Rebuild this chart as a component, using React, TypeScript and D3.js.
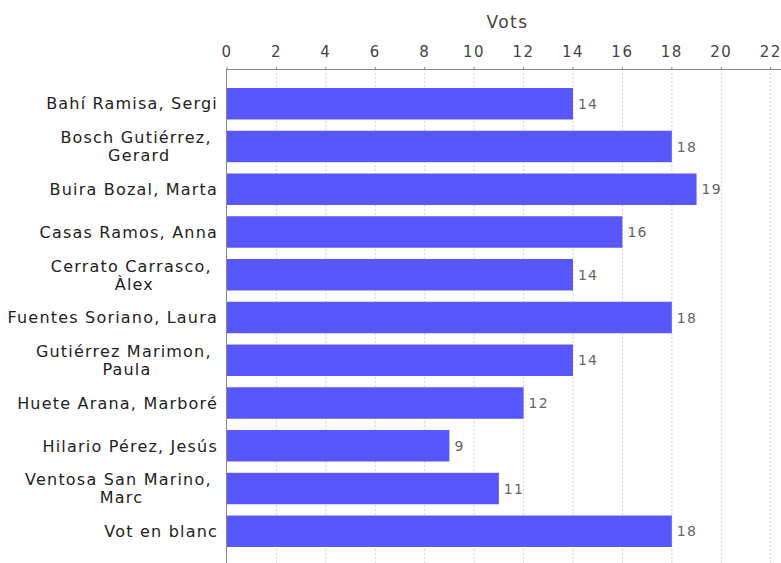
import React, { useEffect, useRef } from "react";
import * as d3 from "d3";

const categories: string[][] = [
  ["Bahí Ramisa, Sergi"],
  ["Bosch Gutiérrez,", "Gerard"],
  ["Buira Bozal, Marta"],
  ["Casas Ramos, Anna"],
  ["Cerrato Carrasco,", "Àlex"],
  ["Fuentes Soriano, Laura"],
  ["Gutiérrez Marimon,", "Paula"],
  ["Huete Arana, Marboré"],
  ["Hilario Pérez, Jesús"],
  ["Ventosa San Marino,", "Marc"],
  ["Vot en blanc"],
];
const votes: number[] = [14, 18, 19, 16, 14, 18, 14, 12, 9, 11, 18];
const tickValues: number[] = [0, 2, 4, 6, 8, 10, 12, 14, 16, 18, 20, 22];
const axisTitle = "Vots";

const W = 781;
const H = 563;
const FONT = "'DejaVu Sans', sans-serif";

export default function App() {
  const ref = useRef<SVGSVGElement | null>(null);

  useEffect(() => {
    const svg = d3.select(ref.current);
    svg.selectAll("*").remove();

    const x = d3.scaleLinear().domain([0, 22.7]).range([227, 788]);
    const keys = categories.map((c) => c.join(" "));
    const y = d3
      .scaleBand<string>()
      .domain(keys)
      .range([82.35, 552.65])
      .paddingInner(0.264)
      .paddingOuter(0.132);

    const plotTop = 69;

    svg.append("rect").attr("x", 0).attr("y", 0).attr("width", W).attr("height", H).attr("fill", "#fff");

    // gridlines
    svg
      .append("g")
      .selectAll("line")
      .data(tickValues.filter((t) => t > 0))
      .join("line")
      .attr("x1", (d) => x(d))
      .attr("x2", (d) => x(d))
      .attr("y1", plotTop)
      .attr("y2", H)
      .attr("stroke", "#d4d4d4")
      .attr("stroke-width", 1)
      .attr("stroke-dasharray", "2,2");

    // bars
    svg
      .append("g")
      .selectAll("rect")
      .data(votes)
      .join("rect")
      .attr("x", x(0))
      .attr("y", (_, i) => y(keys[i]) as number)
      .attr("width", (d) => x(d) - x(0))
      .attr("height", y.bandwidth())
      .attr("fill", "#5757fb");

    // value labels
    svg
      .append("g")
      .selectAll("text")
      .data(votes)
      .join("text")
      .attr("x", (d) => x(d) + 5)
      .attr("y", (_, i) => (y(keys[i]) as number) + y.bandwidth() / 2)
      .attr("dy", "0.36em")
      .attr("font-family", FONT)
      .attr("font-size", 14)
      .attr("letter-spacing", 1.2)
      .attr("fill", "#666")
      .text((d) => String(d));

    // top axis
    const axisG = svg.append("g");
    axisG
      .append("line")
      .attr("x1", x(0))
      .attr("x2", W)
      .attr("y1", plotTop + 0.5)
      .attr("y2", plotTop + 0.5)
      .attr("stroke", "#888");
    axisG
      .selectAll("line.tick")
      .data(tickValues)
      .join("line")
      .attr("class", "tick")
      .attr("x1", (d) => x(d))
      .attr("x2", (d) => x(d))
      .attr("y1", plotTop - 2)
      .attr("y2", plotTop + 1)
      .attr("stroke", "#888");
    axisG
      .selectAll("text.tl")
      .data(tickValues)
      .join("text")
      .attr("class", "tl")
      .attr("x", (d) => x(d))
      .attr("y", 57)
      .attr("text-anchor", "middle")
      .attr("font-family", FONT)
      .attr("font-size", 15)
      .attr("letter-spacing", 1.5)
      .attr("fill", "#444")
      .text((d) => String(d));
    axisG
      .append("text")
      .attr("x", (x(0) + 788) / 2)
      .attr("y", 28)
      .attr("text-anchor", "middle")
      .attr("font-family", FONT)
      .attr("font-size", 17)
      .attr("letter-spacing", 1.5)
      .attr("fill", "#444")
      .text(axisTitle);

    // left axis line
    svg
      .append("line")
      .attr("x1", x(0) - 0.5)
      .attr("x2", x(0) - 0.5)
      .attr("y1", plotTop)
      .attr("y2", H)
      .attr("stroke", "#888");

    // category labels
    const labelRight = 218;
    const lineH = 18;
    const catG = svg.append("g");
    categories.forEach((lines, i) => {
      const cy = (y(keys[i]) as number) + y.bandwidth() / 2;
      const n = lines.length;
      const texts = lines.map((ln, j) =>
        catG
          .append("text")
          .attr("font-family", FONT)
          .attr("font-size", 16)
          .attr("letter-spacing", 1.2)
          .attr("fill", "#222")
          .attr("text-anchor", "middle")
          .text(n > 1 && j === 0 ? ln + "\u00a0" : ln)
      );
      const widths = texts.map((t) => (t.node() as SVGTextElement).getComputedTextLength());
      const maxW = Math.max(...widths);
      const cx = labelRight - maxW / 2;
      texts.forEach((t, j) => {
        t.attr("x", cx)
          .attr("y", cy + (j - (n - 1) / 2) * lineH)
          .attr("dy", "0.36em");
      });
    });
  }, []);

  return <svg ref={ref} width={W} height={H} style={{ display: "block", position: "absolute", left: 0, top: 0 }} />;
}
